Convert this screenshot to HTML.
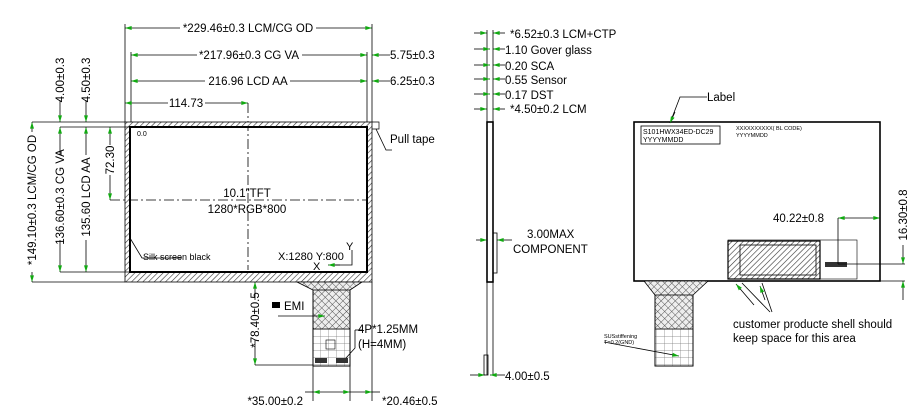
<!DOCTYPE html>
<html><head><meta charset="utf-8"><style>
html,body{margin:0;padding:0;background:#fff;}
svg{display:block;font-family:"Liberation Sans",Arial,sans-serif;}
</style></head><body>
<svg width="920" height="417" viewBox="0 0 920 417" xmlns="http://www.w3.org/2000/svg">
<defs>
<pattern id="h" width="4" height="4" patternUnits="userSpaceOnUse" patternTransform="rotate(45)"><rect width="4" height="4" fill="#fff"/><line x1="0" y1="0" x2="0" y2="4" stroke="#333" stroke-width="1.2"/></pattern>
<pattern id="x" width="5" height="5" patternUnits="userSpaceOnUse" patternTransform="rotate(45)"><rect width="5" height="5" fill="#eee"/><path d="M0 0V5M0 0H5" stroke="#555" stroke-width="1"/></pattern>
<pattern id="g" width="8" height="7" patternUnits="userSpaceOnUse"><rect width="8" height="7" fill="#fff"/><path d="M0 0V7M0 0H8" stroke="#777" stroke-width="0.7"/></pattern>
<marker id="a" viewBox="0 0 10 6" refX="10" refY="3" markerWidth="7" markerHeight="4" orient="auto-start-reverse" markerUnits="userSpaceOnUse"><path d="M0 0L10 3L0 6z" fill="#1a1"/></marker>
</defs>
<g stroke="#000" stroke-width="0.8" fill="none">
<!-- FRONT VIEW -->
<line x1="125" y1="24" x2="125" y2="122"/><line x1="372" y1="24" x2="372" y2="122"/>
<line x1="131" y1="52" x2="131" y2="122"/><line x1="367" y1="52" x2="367" y2="122"/>
<line x1="125" y1="28" x2="180" y2="28" marker-start="url(#a)"/><line x1="316" y1="28" x2="372" y2="28" marker-end="url(#a)"/>
<line x1="131" y1="55" x2="197" y2="55" marker-start="url(#a)"/><line x1="302" y1="55" x2="367" y2="55" marker-end="url(#a)"/>
<line x1="390" y1="55" x2="372" y2="55" marker-end="url(#a)"/>
<line x1="131" y1="81" x2="205" y2="81" marker-start="url(#a)"/><line x1="290" y1="81" x2="367" y2="81" marker-end="url(#a)"/>
<line x1="390" y1="81" x2="372" y2="81" marker-end="url(#a)"/>
<line x1="125" y1="103" x2="168" y2="103" marker-start="url(#a)"/><line x1="205" y1="103" x2="248" y2="103" marker-end="url(#a)"/>
<line x1="248" y1="103" x2="248" y2="270" stroke-dasharray="10 3 2 3"/>
<line x1="110" y1="200" x2="372" y2="200" stroke-dasharray="10 3 2 3"/>
<!-- frame -->
<path d="M125 122H372V282H125Z M130 127V272H367V127Z" fill="url(#h)" fill-rule="evenodd" stroke="none"/>
<rect x="125" y="122" width="247" height="160"/>
<rect x="130" y="127" width="237" height="145" stroke-width="2"/>
<path d="M372 122H379V129H372" stroke-width="0.7"/>
<path d="M376 129L386 150H392"/>
<!-- left lines -->
<line x1="32" y1="122" x2="125" y2="122"/><line x1="60" y1="127" x2="130" y2="127"/>
<line x1="60" y1="272" x2="130" y2="272"/><line x1="32" y1="282" x2="125" y2="282"/>
<line x1="32" y1="122" x2="32" y2="132" marker-start="url(#a)"/><line x1="32" y1="272" x2="32" y2="282" marker-end="url(#a)"/>
<line x1="60" y1="100" x2="60" y2="122" marker-end="url(#a)"/><line x1="60" y1="127" x2="60" y2="155" marker-start="url(#a)"/><line x1="60" y1="240" x2="60" y2="272" marker-end="url(#a)"/>
<line x1="86" y1="100" x2="86" y2="122" marker-end="url(#a)"/><line x1="86" y1="127" x2="86" y2="155" marker-start="url(#a)"/><line x1="86" y1="240" x2="86" y2="272" marker-end="url(#a)"/>
<line x1="110" y1="127" x2="110" y2="145" marker-start="url(#a)"/><line x1="110" y1="175" x2="110" y2="200" marker-end="url(#a)"/>
<!-- silk screen leader -->
<path d="M130 238L142 258H182"/>
<!-- XY -->
<path d="M352 250V265H332" /><line x1="340" y1="265" x2="328" y2="265" marker-end="url(#a)"/>
<!-- FPC -->
<path d="M297 282L313 290V366H350V290L362 282Z" fill="url(#x)"/>
<rect x="313" y="329" width="37" height="37" fill="url(#g)"/>
<rect x="313" y="290" width="37" height="76"/>
<rect x="326" y="340" width="9" height="9" stroke-width="0.6"/>
<rect x="315" y="358" width="12" height="5" fill="#333" stroke="none"/><rect x="336" y="358" width="12" height="5" fill="#333" stroke="none"/>
<line x1="313" y1="366" x2="313" y2="401"/><line x1="350" y1="366" x2="350" y2="401"/><line x1="372" y1="282" x2="372" y2="401"/>
<line x1="305" y1="392" x2="313" y2="392" /><line x1="330" y1="392" x2="313" y2="392" marker-end="url(#a)"/>
<line x1="330" y1="392" x2="350" y2="392" marker-end="url(#a)"/><line x1="350" y1="392" x2="372" y2="392" marker-end="url(#a)"/>
<line x1="372" y1="392" x2="380" y2="392"/>
<line x1="255" y1="282" x2="255" y2="300" marker-start="url(#a)"/><line x1="255" y1="340" x2="255" y2="365" marker-end="url(#a)"/>
<line x1="255" y1="365" x2="313" y2="365"/>
<line x1="278" y1="316" x2="325" y2="316" marker-end="url(#a)"/>
<path d="M355 330V348L346 358"/><line x1="355" y1="330" x2="362" y2="330"/>
<!-- SIDE VIEW -->
<line x1="487" y1="30" x2="487" y2="375"/><line x1="493" y1="30" x2="493" y2="375"/>
<rect x="487" y="122" width="6" height="160" stroke-width="1.6"/>
<rect x="493" y="233" width="4" height="40"/>
<line x1="474" y1="33" x2="487" y2="33" marker-end="url(#a)"/><line x1="505" y1="33" x2="493" y2="33" marker-end="url(#a)"/>
<line x1="474" y1="49" x2="490" y2="49" marker-end="url(#a)"/><line x1="505" y1="49" x2="493" y2="49" marker-end="url(#a)"/>
<line x1="474" y1="65" x2="490" y2="65" marker-end="url(#a)"/><line x1="505" y1="65" x2="493" y2="65" marker-end="url(#a)"/>
<line x1="474" y1="79" x2="490" y2="79" marker-end="url(#a)"/><line x1="505" y1="79" x2="493" y2="79" marker-end="url(#a)"/>
<line x1="474" y1="94" x2="490" y2="94" marker-end="url(#a)"/><line x1="505" y1="94" x2="493" y2="94" marker-end="url(#a)"/>
<line x1="474" y1="109" x2="487" y2="109" marker-end="url(#a)"/><line x1="505" y1="109" x2="493" y2="109" marker-end="url(#a)"/>
<line x1="476" y1="240" x2="487" y2="240" marker-end="url(#a)"/><line x1="512" y1="240" x2="497" y2="240" marker-end="url(#a)"/>
<line x1="470" y1="375" x2="485" y2="375" marker-end="url(#a)"/><line x1="505" y1="375" x2="490" y2="375" marker-end="url(#a)"/>
<rect x="484" y="355" width="4" height="20"/>
<!-- BACK VIEW -->
<rect x="634" y="122" width="246" height="159" stroke-width="1.6"/>
<rect x="641" y="126" width="79" height="18"/>
<path d="M707 97H680L670 123"/><line x1="675" y1="112" x2="670" y2="123" marker-end="url(#a)"/>
<rect x="728" y="240" width="129" height="39" stroke-width="0.6"/>
<rect x="728" y="241" width="92" height="38" fill="url(#h)" stroke-width="1.2"/>
<rect x="740" y="245" width="76" height="30" stroke-width="0.8"/>
<rect x="825" y="262" width="22" height="5" fill="#333" stroke="none"/>
<line x1="838" y1="218" x2="838" y2="264"/>
<line x1="838" y1="218" x2="860" y2="218" marker-start="url(#a)"/><line x1="860" y1="218" x2="880" y2="218" marker-end="url(#a)"/>
<line x1="838" y1="264" x2="905" y2="264"/><line x1="880" y1="281" x2="905" y2="281"/>
<line x1="903" y1="245" x2="903" y2="264" marker-end="url(#a)"/><line x1="903" y1="300" x2="903" y2="281" marker-end="url(#a)"/>
<path d="M644 281L655 295V366H693V295L708 281Z" fill="url(#x)"/>
<rect x="655" y="329" width="38" height="37" fill="url(#g)"/>
<rect x="655" y="295" width="38" height="71"/>
<line x1="742" y1="283" x2="770" y2="312"/><line x1="772" y1="312" x2="762" y2="283" />
<line x1="754" y1="305" x2="736" y2="284" marker-end="url(#a)"/><line x1="765" y1="300" x2="760" y2="286" marker-end="url(#a)"/>
<line x1="604" y1="342" x2="679" y2="356" marker-end="url(#a)"/>
</g>
<g font-size="11.5" fill="#000">
<text x="248" y="32" text-anchor="middle">*229.46±0.3 LCM/CG OD</text>
<text x="249" y="59" text-anchor="middle">*217.96±0.3 CG VA</text>
<text x="390" y="59">5.75±0.3</text>
<text x="248" y="85" text-anchor="middle">216.96 LCD AA</text>
<text x="390" y="85">6.25±0.3</text>
<text x="186" y="107" text-anchor="middle">114.73</text>
<text x="390" y="143">Pull  tape</text>
<text x="247" y="197" text-anchor="middle">10.1"TFT</text>
<text x="247" y="213" text-anchor="middle">1280*RGB*800</text>
<text x="278" y="260" font-size="11">X:1280 Y:800</text>
<text x="346" y="250" font-size="11">Y</text><text x="313" y="270" font-size="11">X</text>
<text x="143" y="260" font-size="9">Silk screen black</text>
<text x="137" y="136" font-size="7">0.0</text>
<rect x="272" y="302" width="8" height="6" fill="#000"/>
<text x="284" y="310">EMI</text>
<text x="358" y="333">4P*1.25MM</text>
<text x="358" y="348">(H=4MM)</text>
<text x="303" y="405" text-anchor="end">*35.00±0.2</text>
<text x="382" y="405">*20.46±0.5</text>
<text transform="translate(36,200) rotate(-90)" text-anchor="middle">*149.10±0.3 LCM/CG OD</text>
<text transform="translate(64,197) rotate(-90)" text-anchor="middle">136.60±0.3 CG VA</text>
<text transform="translate(90,197) rotate(-90)" text-anchor="middle">135.60 LCD AA</text>
<text transform="translate(64,80) rotate(-90)" text-anchor="middle">4.00±0.3</text>
<text transform="translate(90,80) rotate(-90)" text-anchor="middle">4.50±0.3</text>
<text transform="translate(114,160) rotate(-90)" text-anchor="middle">72.30</text>
<text transform="translate(259,320) rotate(-90)" text-anchor="middle">*78.40±0.5</text>
<text x="510" y="38">*6.52±0.3 LCM+CTP</text>
<text x="505" y="54">1.10 Gover glass</text>
<text x="505" y="70">0.20 SCA</text>
<text x="505" y="84">0.55 Sensor</text>
<text x="505" y="99">0.17 DST</text>
<text x="510" y="113">*4.50±0.2 LCM</text>
<text x="527" y="238">3.00MAX</text>
<text x="513" y="253">COMPONENT</text>
<text x="505" y="380">4.00±0.5</text>
<text x="707" y="101">Label</text>
<text x="643" y="134" font-size="7">S101HWX34ED-DC29</text>
<text x="643" y="142" font-size="7">YYYYMMDD</text>
<text x="736" y="130" font-size="5.5">XXXXXXXXXX( BL CODE)</text>
<text x="736" y="137" font-size="5.5">YYYYMMDD</text>
<text x="773" y="222">40.22±0.8</text>
<text transform="translate(907,215) rotate(-90)" text-anchor="middle">16.30±0.8</text>
<text x="733" y="328">customer producte shell should</text>
<text x="733" y="342">keep space for this area</text>
<text x="604" y="338" font-size="5.5">SUSstiffening</text>
<text x="604" y="344" font-size="5.5">T=0.2(GND)</text>
</g>
</svg>
</body></html>
